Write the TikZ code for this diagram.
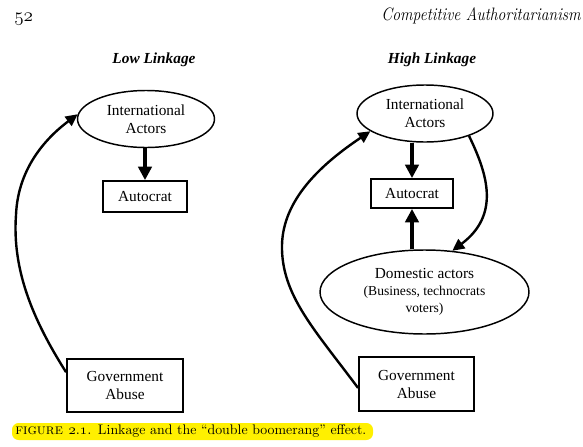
\documentclass[tikz,border=0pt]{standalone}
\usepackage{fontspec}
\newfontfamily\tms{Liberation Serif}
\usetikzlibrary{shapes.geometric,arrows.meta}
\definecolor{hl}{RGB}{255,240,0}
\newcommand{\osn}[1]{\ensuremath{\mathnormal{#1}}}
\begin{document}
\begin{tikzpicture}[x=0.75pt,y=-0.75pt,
  txt/.style={font=\tms\fontsize{11.5}{13.5}\selectfont, align=center, inner sep=0pt},
  ell/.style={txt, ellipse, draw, line width=1.1pt},
  boxn/.style={txt, rectangle, draw, line width=1.4pt},
  thickarr/.style={line width=2.4pt, -{Triangle[length=10pt,width=10pt]}},
  curvarr/.style={line width=1.8pt, -{Triangle[length=9pt,width=8.5pt]}},
  ttl/.style={font=\tms\bfseries\itshape\fontsize{11.5}{13.5}\selectfont, inner sep=0pt, anchor=base}
]
\useasboundingbox (0,0) rectangle (583,447);

% header
\node[anchor=base west, inner sep=0pt, font=\fontsize{14}{16}\selectfont] (pg) at (14,21) {\osn{52}};
\node[anchor=base east, inner sep=0pt, font=\itshape\fontsize{13.5}{16}\selectfont] (hd) at (581,20)
  {\scalebox{0.87}[1]{Competitive Authoritarianism}};

% titles
\node[ttl] (lowt) at (154,63) {Low Linkage};
\node[ttl] (hight) at (432,63) {High Linkage};

% left diagram
\node[ell, minimum width=102.75pt, minimum height=42.75pt] (LInt) at (146,119) {International\\Actors};
\node[boxn, minimum width=63pt, minimum height=23.25pt] (LAut) at (145,196.5) {Autocrat};
\node[boxn, minimum width=87pt, minimum height=39.75pt] (LGov) at (125,385.5) {Government\\Abuse};

\draw[thickarr] (LInt.south -| LAut.north) -- (LAut.north);
\draw[curvarr] ([yshift=10pt]LGov.west) .. controls (33,320) and (12,270) .. (16,215)
  .. controls (18,165) and (50,135) .. (LInt.176);

% right diagram
\node[ell, minimum width=102pt, minimum height=42.75pt] (RInt) at (425,113.5) {International\\Actors};
\node[boxn, minimum width=61.5pt, minimum height=21.75pt] (RAut) at (412,193.5) {Autocrat};
\node[ell, minimum width=156.75pt, minimum height=63pt] (RDom) at (424.5,292)
  {Domestic actors\\[-0.5pt]{\fontsize{10.2}{12.75}\selectfont (Business, technocrats}\\[-0.5pt]{\fontsize{10.2}{12.75}\selectfont voters)}};
\node[boxn, minimum width=86.25pt, minimum height=40.5pt] (RGov) at (416.5,384) {Government\\Abuse};

\draw[thickarr] (RInt.south -| RAut.north) -- (RAut.north);
\draw[thickarr] (RDom.north -| RAut.south) -- (RAut.south);
\draw[curvarr] (RInt.-27) .. controls (488,175) and (500,215) .. (RDom.56);
\draw[curvarr] ([yshift=-3pt]RGov.west) .. controls (315,330) and (281,295) .. (282,245)
  .. controls (283,200) and (320,165) .. (RInt.198);

% caption
\fill[hl, rounded corners=5pt] (12,423) rectangle (373,440);
\node[anchor=base west, inner sep=0pt, font=\fontsize{10.4}{13}\selectfont] (cap) at (15,434)
  {\textsc{\fontsize{11}{13}\selectfont figure \osn{2.1}.} Linkage and the “double boomerang” effect.};
\end{tikzpicture}
\end{document}
